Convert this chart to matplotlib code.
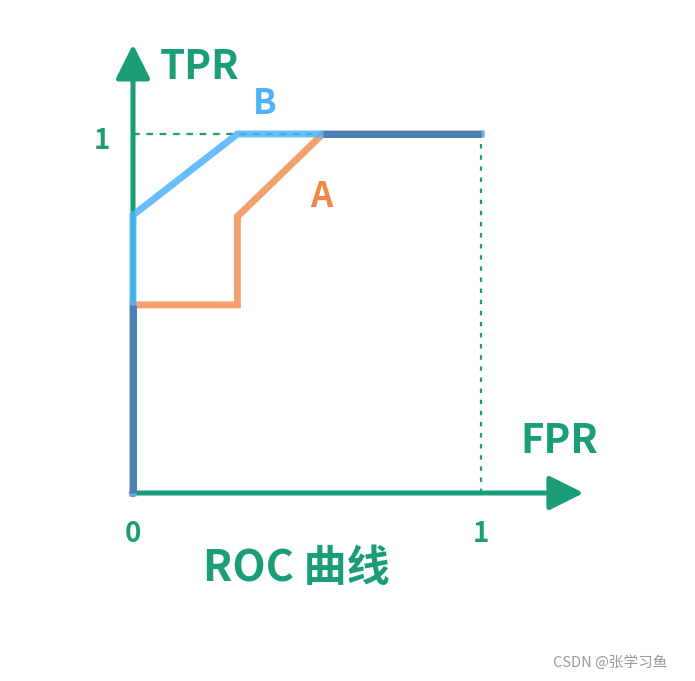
"""
Sketch-style ROC curve comparing two classifiers, A and B.
"""

import matplotlib.pyplot as plt

plt.rcParams['font.family'] = ['Noto Sans CJK SC', 'DejaVu Sans']

GREEN = '#1b9e77'
BLUE = '#4cb3fa'
ORANGE = '#f2874a'
DARK_BLUE = '#4a80b4'

# ROC points
B_FPR = [0.0, 0.0, 0.30, 1.0]
B_TPR = [0.0, 0.774, 1.0, 1.0]

A_FPR = [0.0, 0.0, 0.30, 0.30, 0.545, 1.0]
A_TPR = [0.0, 0.524, 0.524, 0.77, 1.0, 1.0]

TICKS = ['0', '1']
X_LABEL = 'FPR'
Y_LABEL = 'TPR'
TITLE = 'ROC 曲线'
WATERMARK = 'CSDN @张学习鱼'


def main():

    fig = plt.figure(figsize=(6.95, 6.81), dpi=100)
    ax = fig.add_axes([0, 0, 1, 1])
    ax.set_xlim(-133 / 348, 562 / 348)
    ax.set_ylim(-188 / 359, 493 / 359)
    ax.axis('off')

    # guide lines to (1, 1)
    ax.plot([0, 1], [1, 1], color=GREEN, lw=1.6, ls=(0, (3, 3)), zorder=1)
    ax.plot([1, 1], [0, 1], color=GREEN, lw=1.6, ls=(0, (2, 3)), zorder=1)

    # axes with arrow heads
    arrow = dict(arrowstyle='-|>,head_length=1.5,head_width=0.75',
                 color=GREEN, lw=3.6, mutation_scale=14,
                 shrinkA=0, shrinkB=0)
    ax.annotate('', xy=(1.295, 0), xytext=(-0.005, 0),
                arrowprops=arrow, zorder=2)
    ax.annotate('', xy=(0, 1.25), xytext=(0, -0.005),
                arrowprops=arrow, zorder=2)

    ax.plot(A_FPR, A_TPR, color=ORANGE, lw=5, alpha=0.8,
            solid_joinstyle='miter', zorder=3)
    ax.plot(B_FPR, B_TPR, color=BLUE, lw=5, alpha=0.85,
            solid_joinstyle='miter', zorder=4)

    # where the two curves run together the colours mix darker
    ax.plot([A_FPR[-2], 1], [1, 1], color=DARK_BLUE, lw=5, zorder=5,
            solid_capstyle='butt')
    ax.plot([0, 0], [0, A_TPR[1]], color=DARK_BLUE, lw=5, zorder=5,
            solid_capstyle='butt')

    text = dict(fontweight='bold', ha='center', va='center')
    ax.text(0.19, 1.184, Y_LABEL, color=GREEN, fontsize=29, **text)
    ax.text(1.224, 0.143, X_LABEL, color=GREEN, fontsize=29, **text)
    ax.text(0.377, 1.086, 'B', color=BLUE, fontsize=25, **text)
    ax.text(0.54, 0.827, 'A', color=ORANGE, fontsize=25, **text)
    ax.text(-0.09, 0.98, TICKS[1], color=GREEN, fontsize=20, **text)
    ax.text(0.0, -0.115, TICKS[0], color=GREEN, fontsize=20, **text)
    ax.text(1.0, -0.115, TICKS[1], color=GREEN, fontsize=20, **text)
    ax.text(0.47, -0.21, TITLE, color=GREEN, fontsize=31, **text)

    ax.text(1.37, -0.472, WATERMARK, color='#999999', fontsize=10.5,
            ha='center', va='center')

    fig.savefig('out.png', dpi=100, facecolor='white')


if __name__ == '__main__':
    main()
